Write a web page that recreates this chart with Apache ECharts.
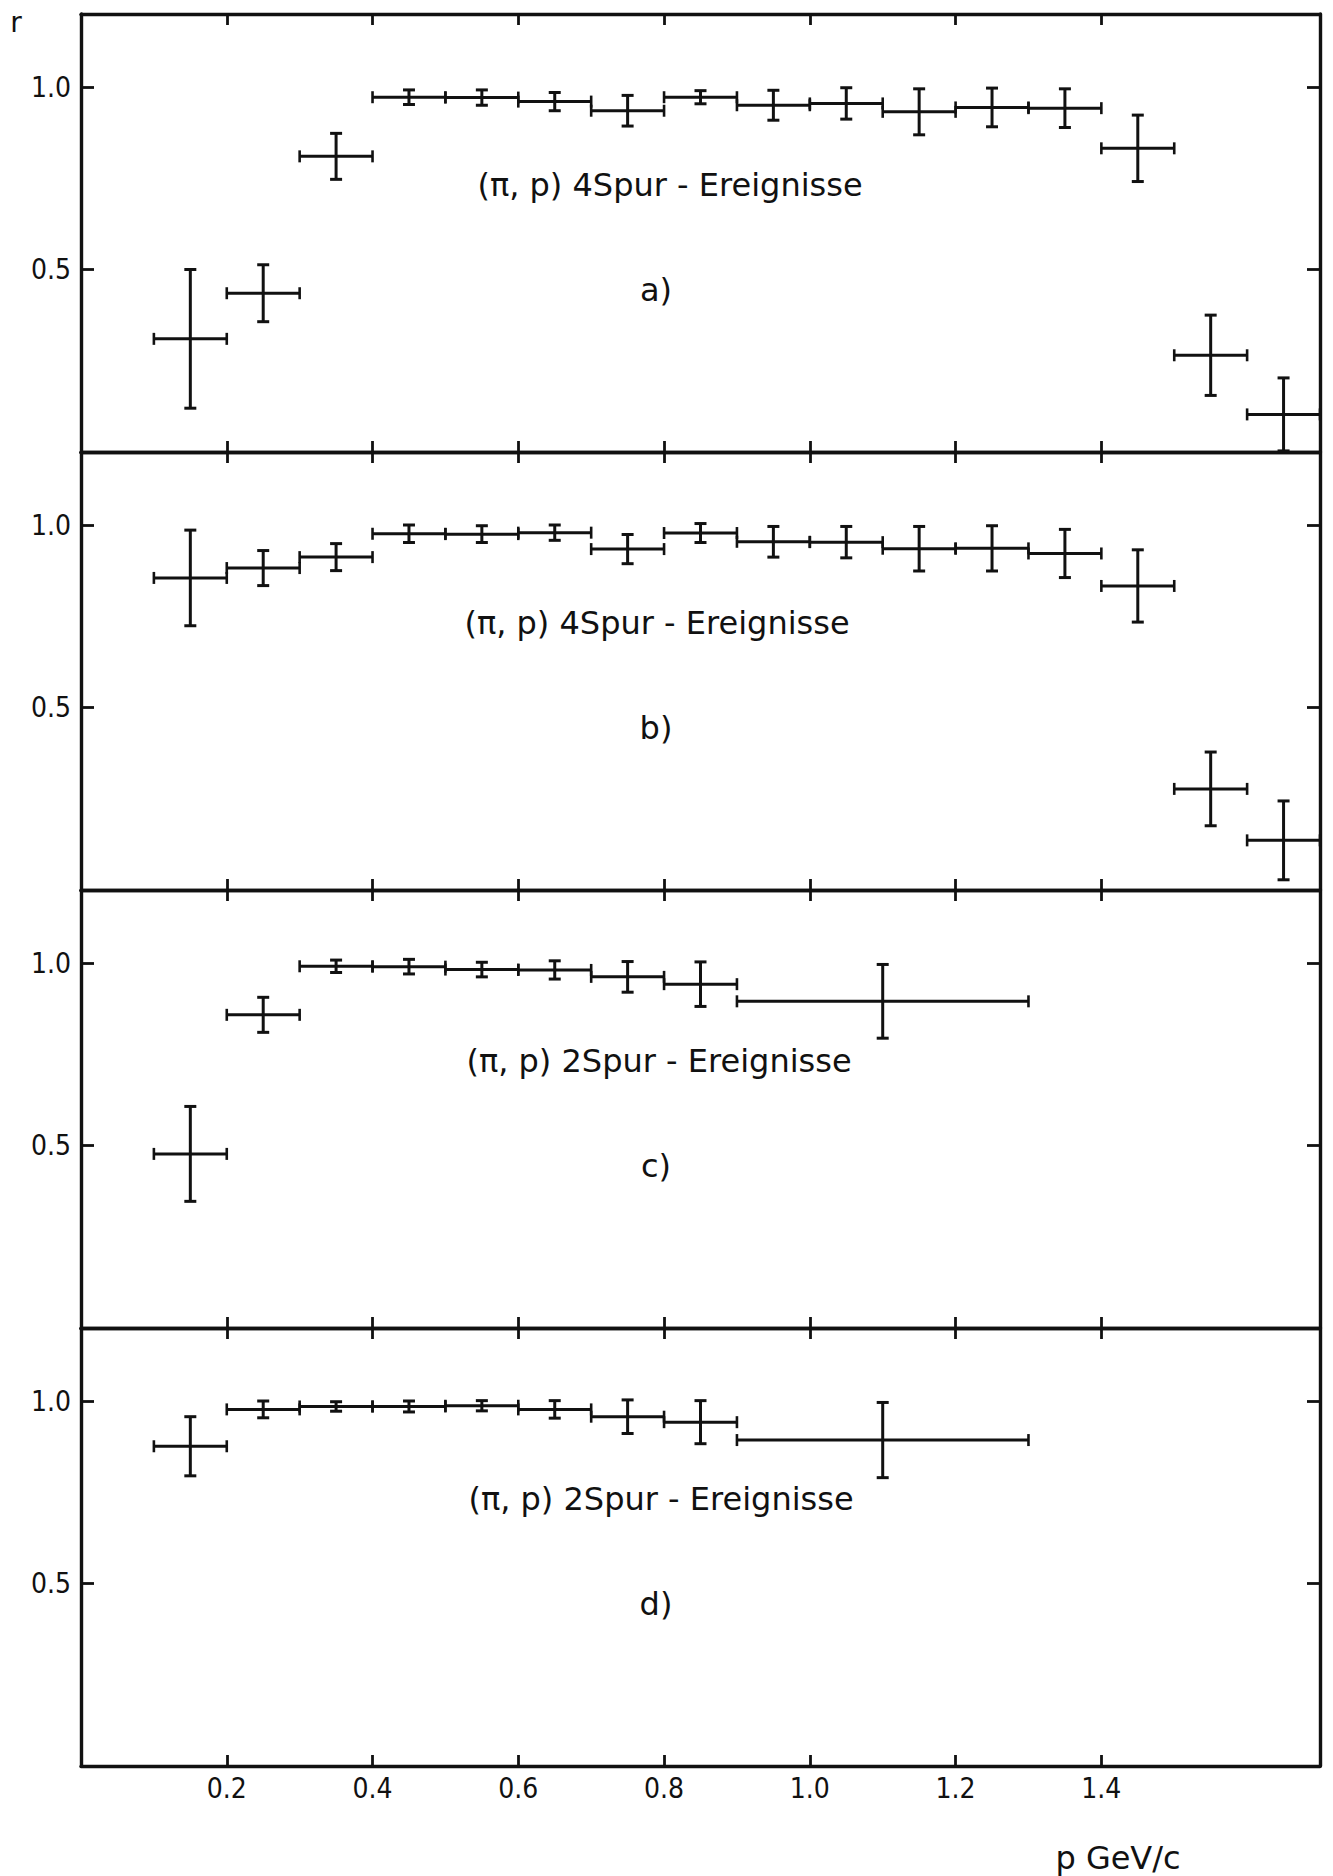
<!DOCTYPE html>
<html>
<head>
<meta charset="utf-8">
<title>Verhältnis r gegen p</title>
<script src="https://cdn.jsdelivr.net/npm/echarts@6/dist/echarts.min.js"></script>
<style>
  html, body { margin: 0; padding: 0; background: #fff; }
  #chart { width: 1333px; height: 1876px; }
</style>
</head>
<body>
<div id="chart"></div>
<script>
const xTickValues = [0.2, 0.4, 0.6, 0.8, 1.0, 1.2, 1.4];
const yTickValues = [0.5, 1.0];

const panelLabels = ['a)', 'b)', 'c)', 'd)'];
const captions = [
  '(π, p) 4Spur - Ereignisse',
  '(π, p) 4Spur - Ereignisse',
  '(π, p) 2Spur - Ereignisse',
  '(π, p) 2Spur - Ereignisse'
];

// a) 4-Spur
const momentumA = [0.15, 0.25, 0.35, 0.45, 0.55, 0.65, 0.75, 0.85, 0.95, 1.05, 1.15, 1.25, 1.35, 1.45, 1.55, 1.65];
const binHalfA = [0.05, 0.05, 0.05, 0.05, 0.05, 0.05, 0.05, 0.05, 0.05, 0.05, 0.05, 0.05, 0.05, 0.05, 0.05, 0.05];
const ratioA = [0.31, 0.435, 0.81, 0.972, 0.971, 0.96, 0.935, 0.972, 0.95, 0.955, 0.932, 0.944, 0.942, 0.832, 0.265, 0.103];
const errorA = [0.19, 0.078, 0.063, 0.02, 0.021, 0.025, 0.042, 0.018, 0.041, 0.043, 0.063, 0.053, 0.053, 0.091, 0.11, 0.1];

// b) 4-Spur
const momentumB = [0.15, 0.25, 0.35, 0.45, 0.55, 0.65, 0.75, 0.85, 0.95, 1.05, 1.15, 1.25, 1.35, 1.45, 1.55, 1.65];
const binHalfB = [0.05, 0.05, 0.05, 0.05, 0.05, 0.05, 0.05, 0.05, 0.05, 0.05, 0.05, 0.05, 0.05, 0.05, 0.05, 0.05];
const ratioB = [0.855, 0.882, 0.912, 0.976, 0.975, 0.979, 0.934, 0.978, 0.954, 0.953, 0.935, 0.936, 0.922, 0.833, 0.277, 0.136];
const errorB = [0.131, 0.048, 0.037, 0.024, 0.023, 0.021, 0.04, 0.026, 0.042, 0.043, 0.061, 0.062, 0.066, 0.099, 0.101, 0.108];

// c) 2-Spur
const momentumC = [0.15, 0.25, 0.35, 0.45, 0.55, 0.65, 0.75, 0.85, 1.1];
const binHalfC = [0.05, 0.05, 0.05, 0.05, 0.05, 0.05, 0.05, 0.05, 0.2];
const ratioC = [0.477, 0.858, 0.991, 0.99, 0.982, 0.981, 0.962, 0.942, 0.895];
const errorC = [0.13, 0.048, 0.017, 0.02, 0.02, 0.025, 0.042, 0.061, 0.101];

// d) 2-Spur
const momentumD = [0.15, 0.25, 0.35, 0.45, 0.55, 0.65, 0.75, 0.85, 1.1];
const binHalfD = [0.05, 0.05, 0.05, 0.05, 0.05, 0.05, 0.05, 0.05, 0.2];
const ratioD = [0.876, 0.977, 0.985, 0.985, 0.987, 0.977, 0.957, 0.942, 0.893];
const errorD = [0.081, 0.023, 0.013, 0.015, 0.014, 0.024, 0.046, 0.059, 0.103];

const panels = [
  { momentum: momentumA, half: binHalfA, ratio: ratioA, error: errorA },
  { momentum: momentumB, half: binHalfB, ratio: ratioB, error: errorB },
  { momentum: momentumC, half: binHalfC, ratio: ratioC, error: errorC },
  { momentum: momentumD, half: binHalfD, ratio: ratioD, error: errorD }
];

const ink = '#111111';
const narrowFont = '"DejaVu Sans Condensed", "DejaVu Sans", sans-serif';
const textFont = '"DejaVu Sans", sans-serif';
const panelTops = [14, 452, 890, 1328];
const panelHeight = 438;
const plotLeft = 81;
const plotWidth = 1239;

function segment(a, b, width) {
  return {
    type: 'line',
    shape: { x1: a[0], y1: a[1], x2: b[0], y2: b[1] },
    style: { stroke: ink, lineWidth: width }
  };
}

// one data row -> horizontal bin bar + vertical error bar, both with end caps
function renderErrorCross(params, api) {
  const x = api.value(0);
  const half = api.value(1);
  const y = api.value(2);
  const err = api.value(3);
  const left = api.coord([x - half, y]);
  const right = api.coord([x + half, y]);
  const top = api.coord([x, y + err]);
  const bottom = api.coord([x, y - err]);
  const cap = 6;
  return {
    type: 'group',
    children: [
      segment(left, right, 3),
      segment(top, bottom, 3),
      segment([left[0], left[1] - cap], [left[0], left[1] + cap], 2.6),
      segment([right[0], right[1] - cap], [right[0], right[1] + cap], 2.6),
      segment([top[0] - cap, top[1]], [top[0] + cap, top[1]], 3),
      segment([bottom[0] - cap, bottom[1]], [bottom[0] + cap, bottom[1]], 3)
    ]
  };
}

function xAxisFor(index, position) {
  const showLabels = position === 'bottom' && index === panels.length - 1;
  return {
    type: 'value',
    gridIndex: index,
    position,
    min: 0,
    max: 1.7,
    axisLine: { show: true, onZero: false, lineStyle: { color: ink, width: 3.4 } },
    axisTick: { show: true, inside: true, length: 11, customValues: xTickValues, lineStyle: { color: ink, width: 2.8 } },
    axisLabel: {
      show: showLabels,
      customValues: xTickValues,
      formatter: (v) => v.toFixed(1),
      color: ink,
      fontSize: 28,
      fontFamily: narrowFont,
      margin: 8
    },
    splitLine: { show: false }
  };
}

function yAxisFor(index, position) {
  return {
    type: 'value',
    gridIndex: index,
    position,
    min: 0,
    max: 1.2,
    axisLine: { show: true, onZero: false, lineStyle: { color: ink, width: 3.4 } },
    axisTick: { show: true, inside: true, length: 13, customValues: yTickValues, lineStyle: { color: ink, width: 2.8 } },
    axisLabel: {
      show: position === 'left',
      customValues: yTickValues,
      formatter: (v) => v.toFixed(1),
      color: ink,
      fontSize: 28,
      fontFamily: narrowFont,
      margin: 10
    },
    splitLine: { show: false }
  };
}

const grids = panelTops.map((top) => ({ left: plotLeft, width: plotWidth, top, height: panelHeight }));
const xAxes = [];
const yAxes = [];
panels.forEach((_, i) => {
  xAxes.push(xAxisFor(i, 'bottom'), xAxisFor(i, 'top'));
  yAxes.push(yAxisFor(i, 'left'), yAxisFor(i, 'right'));
});

const series = panels.map((panel, i) => ({
  type: 'custom',
  name: panelLabels[i],
  xAxisIndex: 2 * i,
  yAxisIndex: 2 * i,
  renderItem: renderErrorCross,
  encode: { x: 0, y: 2 },
  clip: false,
  silent: true,
  data: panel.momentum.map((m, k) => [m, panel.half[k], panel.ratio[k], panel.error[k]])
}));

const captionX = [670, 657, 659, 661];
const captionOffset = 171;
const letterOffset = 276;

const texts = [];
panels.forEach((_, i) => {
  texts.push({
    type: 'text',
    x: captionX[i],
    y: panelTops[i] + captionOffset,
    style: { text: captions[i], fill: ink, font: `32px ${textFont}`, textAlign: 'center', textVerticalAlign: 'middle' }
  });
  texts.push({
    type: 'text',
    x: 656,
    y: panelTops[i] + letterOffset,
    style: { text: panelLabels[i], fill: ink, font: `32px ${textFont}`, textAlign: 'center', textVerticalAlign: 'middle' }
  });
});
texts.push({
  type: 'text', x: 16, y: 22,
  style: { text: 'r', fill: ink, font: `28px ${textFont}`, textAlign: 'center', textVerticalAlign: 'middle' }
});
texts.push({
  type: 'text', x: 1118, y: 1858,
  style: { text: 'p GeV/c', fill: ink, font: `32px ${textFont}`, textAlign: 'center', textVerticalAlign: 'middle' }
});

const chart = echarts.init(document.getElementById('chart'), null, { renderer: 'svg' });
chart.setOption({
  animation: false,
  backgroundColor: '#ffffff',
  grid: grids,
  xAxis: xAxes,
  yAxis: yAxes,
  series,
  graphic: texts
});
</script>
</body>
</html>
